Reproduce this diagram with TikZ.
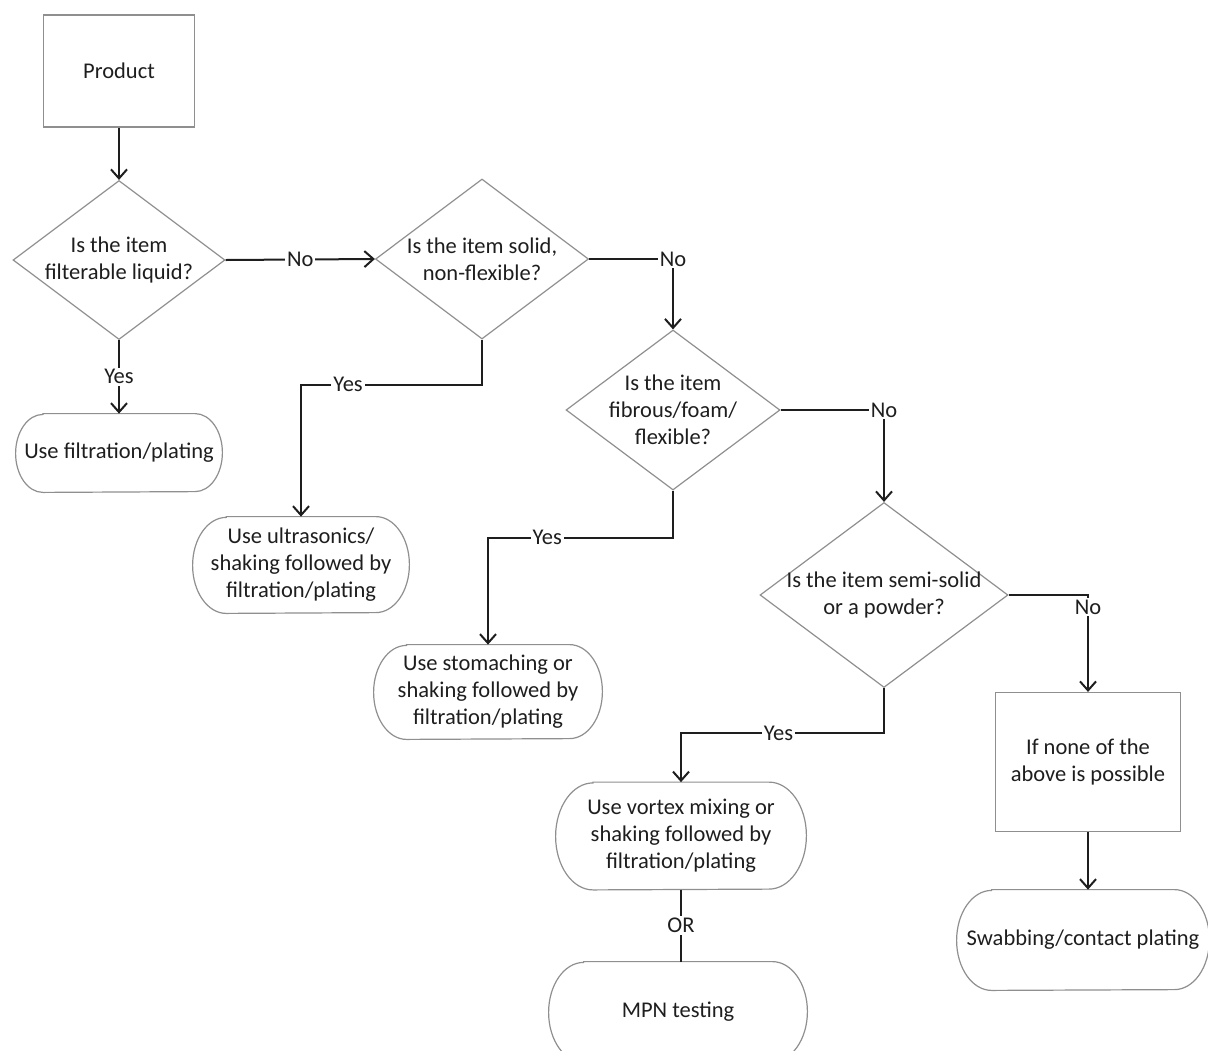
\documentclass[tikz,border=0pt]{standalone}
\usepackage{fontspec}
\setmainfont{Carlito}
\usepackage{xcolor}
\usetikzlibrary{shapes.geometric,arrows.meta}

\definecolor{ink}{HTML}{1E1E1E}
\definecolor{outline}{HTML}{8F8F8F}

\tikzset{
  block/.style 2 args={draw=outline, line width=0.6pt, rectangle, minimum width=#1, minimum height=#2, inner sep=0pt, align=center},
  endpoint/.style 2 args={rectangle, minimum width=#1, minimum height=#2, inner sep=0pt, align=center,
    append after command={\pgfextra{\draw[draw=outline, line width=0.6pt]
      ([xshift=0.35*#2]\tikzlastnode.north west) -- ([xshift=-0.35*#2]\tikzlastnode.north east)
      arc[start angle=90, end angle=-90, x radius=0.35*#2, y radius=0.5*#2]
      -- ([xshift=0.35*#2]\tikzlastnode.south west)
      arc[start angle=270, end angle=90, x radius=0.35*#2, y radius=0.5*#2] -- cycle;}}},
  question/.style 2 args={draw=outline, line width=0.6pt, diamond, minimum width=#1, minimum height=#2, inner sep=0pt},
  arrowline/.style={draw=ink, line width=1pt, -{Straight Barb[length=4.5pt,width=8pt]}},
  plainline/.style={draw=ink, line width=1pt},
  answer/.style={fill=white, inner sep=1pt},
}

\begin{document}
\begin{tikzpicture}[x=0.5pt, y=-0.5pt, text=ink, font=\fontsize{11.25}{13.5}\selectfont]
    \useasboundingbox (0,0) rectangle (1208,1050);
    \clip (0,0) rectangle (1208,1050);

    % boxes and questions
    \node[block={75.5pt}{56pt}] (prod) at (119,71) {Product};
    \node[question={106pt}{79.5pt}, label={[align=center]center:{Is the item\\filterable liquid?}}] (q1) at (119,260) {};
    \node[endpoint={103pt}{39pt}] (t1) at (119,453) {Use filtration/plating};
    \node[question={106.5pt}{80pt}, label={[align=center]center:{Is the item solid,\\non-flexible?}}] (q2) at (482,259) {};
    \node[endpoint={108pt}{48pt}] (t2) at (301,565) {Use ultrasonics/\\shaking followed by\\filtration/plating};
    \node[question={107pt}{80pt}, label={[align=center]center:{Is the item\\fibrous/foam/\\flexible?}}] (q3) at (673,410) {};
    \node[endpoint={114pt}{47pt}] (t3) at (488,692) {Use stomaching or\\shaking followed by\\filtration/plating};
    \node[question={124pt}{92.5pt}, label={[align=center]center:{Is the item semi-solid\\or a powder?}}] (q4) at (884,595) {};
    \node[block={92.5pt}{69.5pt}] (none) at (1088,762) {If none of the\\above is possible};
    \node[endpoint={125pt}{53.5pt}] (t4) at (681,836) {Use vortex mixing or\\shaking followed by\\filtration/plating};
    \node[endpoint={126pt}{50pt}] (t5) at (1083,940) {Swabbing/contact plating};
    \node[endpoint={129pt}{50pt}] (t6) at (678,1012) {MPN testing};

    % connectors
    \draw[arrowline] (prod.south) -- (q1.north);
    \draw[arrowline] (q1.south) -- node[answer]{Yes} (t1.north);
    \draw[arrowline] (q1.east) -- node[answer]{No} (q2.west);
    \draw[arrowline] (q2.south) -- ++(0,45) -| node[answer, pos=0.37]{Yes} (t2.north);
    \draw[arrowline] (q2.east) -| node[answer]{No} (q3.north);
    \draw[arrowline] (q3.south) -- ++(0,47) -| node[answer, pos=0.34]{Yes} (t3.north);
    \draw[arrowline] (q3.east) -| node[answer]{No} (q4.north);
    \draw[arrowline] (q4.south) -- ++(0,45) -| node[answer, pos=0.26]{Yes} (t4.north);
    \draw[arrowline] (q4.east) -| node[answer, yshift=-6pt]{No} (none.north);
    \draw[arrowline] (none.south) -- (none.south |- t5.north);
    \draw[plainline] (t4.south) -- node[answer]{OR} (t4.south |- t6.north);
\end{tikzpicture}
\end{document}
